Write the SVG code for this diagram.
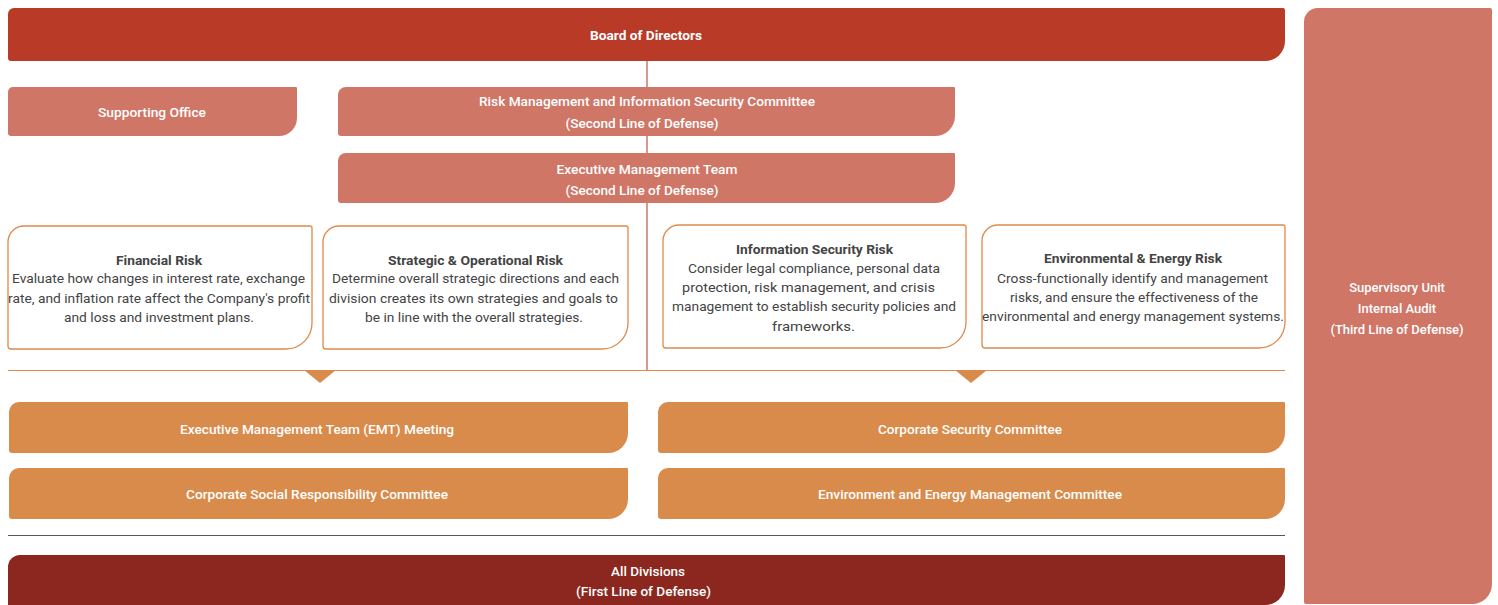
<svg xmlns="http://www.w3.org/2000/svg" width="1498" height="605" viewBox="0 0 1498 605">
  <style>
    text { font-family: Roboto, "Liberation Sans", sans-serif; text-anchor: middle; }
    .lbl { fill: #ffffff; font-size: 13px; font-weight: 500; }
    .lbl-b { fill: #ffffff; font-size: 13px; font-weight: 700; }
    .ttl { fill: #444444; font-size: 13px; font-weight: 700; }
    .body { fill: #444444; font-size: 13px; font-weight: 400; }
    .board { fill: #b93a27; }
    .salmon { fill: #cf7667; }
    .risk { fill: #ffffff; stroke: #e0894a; stroke-width: 1.3; }
    .orange { fill: #d98b4c; }
    .dark { fill: #8b271e; }
    .link { stroke: #cf7667; stroke-width: 1.5; fill: none; }
    .rule { stroke: #e0894a; stroke-width: 1.2; fill: none; }
    .sep { stroke: #555555; stroke-width: 1.2; fill: none; }
    .tri { fill: #d98b4c; }
  </style>

  <!-- connectors and dividers (drawn first, behind the boxes) -->
  <g id="connectors">
    <line class="link" x1="647" y1="61" x2="647" y2="370"/>
    <line class="rule" x1="8" y1="370.5" x2="1285" y2="370.5"/>
    <path class="tri" d="M304,370 L336,370 L320,383 Z"/>
    <path class="tri" d="M955,370 L987,370 L971,383 Z"/>
    <line class="sep" x1="8" y1="535.5" x2="1285" y2="535.5"/>
  </g>

  <g id="board">
    <path class="board" d="M14,8 H1283 A2,2 0 0 1 1285,10 V41 A20,20 0 0 1 1265,61 H11 A3,3 0 0 1 8,58 V14 A6,6 0 0 1 14,8 Z"/>
    <text class="lbl-b" x="646" y="40" textLength="112" lengthAdjust="spacingAndGlyphs">Board of Directors</text>
  </g>

  <g id="supervisory">
    <path class="salmon" d="M1318,8 H1490 A2,2 0 0 1 1492,10 V584 A20,20 0 0 1 1472,604 H1306 A2,2 0 0 1 1304,602 V22 A14,14 0 0 1 1318,8 Z"/>
    <text class="lbl" x="1397" y="291.5">Supervisory Unit</text>
    <text class="lbl" x="1397" y="312.5">Internal Audit</text>
    <text class="lbl" x="1397" y="333.5">(Third Line of Defense)</text>
  </g>

  <g id="supporting-office">
    <path class="salmon" d="M13,87 H296 A1,1 0 0 1 297,88 V118 A18,18 0 0 1 279,136 H11 A3,3 0 0 1 8,133 V92 A5,5 0 0 1 13,87 Z"/>
    <text class="lbl" x="152" y="117" textLength="108" lengthAdjust="spacingAndGlyphs">Supporting Office</text>
  </g>

  <g id="risk-committee">
    <path class="salmon" d="M346,87 H954 A1,1 0 0 1 955,88 V116 A20,20 0 0 1 935,136 H341 A3,3 0 0 1 338,133 V95 A8,8 0 0 1 346,87 Z"/>
    <text class="lbl" x="647" y="106" textLength="336" lengthAdjust="spacingAndGlyphs">Risk Management and Information Security Committee</text>
    <text class="lbl" x="642" y="128" textLength="153" lengthAdjust="spacingAndGlyphs">(Second Line of Defense)</text>
  </g>

  <g id="executive-team">
    <path class="salmon" d="M346,153 H954 A1,1 0 0 1 955,154 V183 A20,20 0 0 1 935,203 H341 A3,3 0 0 1 338,200 V161 A8,8 0 0 1 346,153 Z"/>
    <text class="lbl" x="647" y="174" textLength="181" lengthAdjust="spacingAndGlyphs">Executive Management Team</text>
    <text class="lbl" x="642" y="195" textLength="153" lengthAdjust="spacingAndGlyphs">(Second Line of Defense)</text>
  </g>

  <g id="financial-risk">
    <path class="risk" d="M24,226 H310 A2,2 0 0 1 312,228 V323 A26,26 0 0 1 286,349 H11 A3,3 0 0 1 8,346 V242 A16,16 0 0 1 24,226 Z"/>
    <text class="ttl" x="159" y="264.5" textLength="86" lengthAdjust="spacingAndGlyphs">Financial Risk</text>
    <text class="body" x="158.5" y="283" textLength="293" lengthAdjust="spacingAndGlyphs">Evaluate how changes in interest rate, exchange</text>
    <text class="body" x="159" y="302.5" textLength="302" lengthAdjust="spacingAndGlyphs">rate, and inflation rate affect the Company's profit</text>
    <text class="body" x="159" y="322" textLength="190" lengthAdjust="spacingAndGlyphs">and loss and investment plans.</text>
  </g>

  <g id="strategic-risk">
    <path class="risk" d="M339,226 H626 A2,2 0 0 1 628,228 V323 A26,26 0 0 1 602,349 H326 A3,3 0 0 1 323,346 V242 A16,16 0 0 1 339,226 Z"/>
    <text class="ttl" x="475.5" y="264.5" textLength="175" lengthAdjust="spacingAndGlyphs">Strategic &amp; Operational Risk</text>
    <text class="body" x="475.5" y="283" textLength="287" lengthAdjust="spacingAndGlyphs">Determine overall strategic directions and each</text>
    <text class="body" x="473.5" y="302.5" textLength="289" lengthAdjust="spacingAndGlyphs">division creates its own strategies and goals to</text>
    <text class="body" x="474" y="322" textLength="218" lengthAdjust="spacingAndGlyphs">be in line with the overall strategies.</text>
  </g>

  <g id="infosec-risk">
    <path class="risk" d="M679,225 H964 A2,2 0 0 1 966,227 V322 A26,26 0 0 1 940,348 H666 A3,3 0 0 1 663,345 V241 A16,16 0 0 1 679,225 Z"/>
    <text class="ttl" x="814.5" y="253.5" textLength="157" lengthAdjust="spacingAndGlyphs">Information Security Risk</text>
    <text class="body" x="814" y="272.5" textLength="252" lengthAdjust="spacingAndGlyphs">Consider legal compliance, personal data</text>
    <text class="body" x="808.5" y="291.5" textLength="253" lengthAdjust="spacingAndGlyphs">protection, risk management, and crisis</text>
    <text class="body" x="814" y="311" textLength="284" lengthAdjust="spacingAndGlyphs">management to establish security policies and</text>
    <text class="body" x="813.5" y="330.5" textLength="83" lengthAdjust="spacingAndGlyphs">frameworks.</text>
  </g>

  <g id="environment-risk">
    <path class="risk" d="M998,225 H1283 A2,2 0 0 1 1285,227 V322 A26,26 0 0 1 1259,348 H985 A3,3 0 0 1 982,345 V241 A16,16 0 0 1 998,225 Z"/>
    <text class="ttl" x="1133" y="263" textLength="178" lengthAdjust="spacingAndGlyphs">Environmental &amp; Energy Risk</text>
    <text class="body" x="1132.5" y="282.5" textLength="271" lengthAdjust="spacingAndGlyphs">Cross-functionally identify and management</text>
    <text class="body" x="1134" y="301.5" textLength="248" lengthAdjust="spacingAndGlyphs">risks, and ensure the effectiveness of the</text>
    <text class="body" x="1133" y="320.5" textLength="302" lengthAdjust="spacingAndGlyphs">environmental and energy management systems.</text>
  </g>

  <g id="emt-meeting">
    <path class="orange" d="M19,402 H627 A1,1 0 0 1 628,403 V433 A20,20 0 0 1 608,453 H12 A3,3 0 0 1 9,450 V412 A10,10 0 0 1 19,402 Z"/>
    <text class="lbl" x="317" y="433.5" textLength="274" lengthAdjust="spacingAndGlyphs">Executive Management Team (EMT) Meeting</text>
  </g>

  <g id="csr-committee">
    <path class="orange" d="M19,468 H627 A1,1 0 0 1 628,469 V499 A20,20 0 0 1 608,519 H12 A3,3 0 0 1 9,516 V478 A10,10 0 0 1 19,468 Z"/>
    <text class="lbl" x="317" y="498.5" textLength="262" lengthAdjust="spacingAndGlyphs">Corporate Social Responsibility Committee</text>
  </g>

  <g id="security-committee">
    <path class="orange" d="M668,402 H1284 A1,1 0 0 1 1285,403 V433 A20,20 0 0 1 1265,453 H661 A3,3 0 0 1 658,450 V412 A10,10 0 0 1 668,402 Z"/>
    <text class="lbl" x="970" y="433.5" textLength="184" lengthAdjust="spacingAndGlyphs">Corporate Security Committee</text>
  </g>

  <g id="energy-committee">
    <path class="orange" d="M668,468 H1284 A1,1 0 0 1 1285,469 V499 A20,20 0 0 1 1265,519 H661 A3,3 0 0 1 658,516 V478 A10,10 0 0 1 668,468 Z"/>
    <text class="lbl" x="970" y="498.5" textLength="304" lengthAdjust="spacingAndGlyphs">Environment and Energy Management Committee</text>
  </g>

  <g id="all-divisions">
    <path class="dark" d="M20,555 H1284 A1,1 0 0 1 1285,556 V585 A20,20 0 0 1 1265,605 H8 V567 A12,12 0 0 1 20,555 Z"/>
    <text class="lbl" x="648" y="575.5" textLength="74" lengthAdjust="spacingAndGlyphs">All Divisions</text>
    <text class="lbl" x="643.5" y="595.5" textLength="135" lengthAdjust="spacingAndGlyphs">(First Line of Defense)</text>
  </g>
</svg>
